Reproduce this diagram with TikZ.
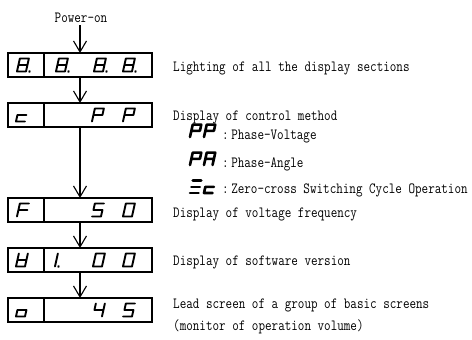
\documentclass[tikz,border=0pt]{standalone}
\usepackage{fontspec}
\usetikzlibrary{arrows.meta}
\newcommand\stxt[1]{\scalebox{1}[1.22]{#1}}
\newcommand\sevdigit[4][]{%
  \begin{scope}[shift={(#2,#3)},#1,xslant=0.22,yscale=-1]
    \coordinate (A) at (0,13);
    \coordinate (B) at (9,13);
    \coordinate (C) at (0,6.5);
    \coordinate (D) at (9,6.5);
    \coordinate (E) at (0,0);
    \coordinate (F) at (9,0);
    \draw[segline] #4;
  \end{scope}}
\begin{document}
\begin{tikzpicture}[x=1pt,y=-1pt,
  box/.style={draw, line width=1.1pt, minimum height=24pt, inner sep=0pt, outer sep=0pt},
  arr/.style={line width=1.1pt, -{Straight Barb[length=11pt,width=13pt,line width=1.1pt]}},
  txt/.style={anchor=base west, inner sep=0pt, font=\ttfamily\fontsize{12.75}{14}\selectfont},
  segline/.style={line width=1.9pt, line join=round, line cap=round},
  bigseg/.style={segline/.append style={line width=2.6pt}}]
\useasboundingbox (0,0) rectangle (472,340);

% Power-on
\node[txt, anchor=base] (pw) at (81,22) {\stxt{Power-on}};
\coordinate (pwb) at (80,25);

% boxes
\node[box, minimum width=36pt] (l1) at (26,65) {};
\node[box, minimum width=108pt] (r1) at (98,65) {};
\node[box, minimum width=36pt] (l2) at (26,115) {};
\node[box, minimum width=108pt] (r2) at (98,115) {};
\node[box, minimum width=36pt] (l3) at (26,210) {};
\node[box, minimum width=108pt] (r3) at (98,210) {};
\node[box, minimum width=36pt] (l4) at (26,260) {};
\node[box, minimum width=108pt] (r4) at (98,260) {};
\node[box, minimum width=36pt] (l5) at (26,310) {};
\node[box, minimum width=108pt] (r5) at (98,310) {};

% arrows
\draw[arr] (pwb) -- (r1.north -| pwb);
\draw[arr] (r1.south -| pwb) -- (r2.north -| pwb);
\draw[arr] (r2.south -| pwb) -- (r3.north -| pwb);
\draw[arr] (r3.south -| pwb) -- (r4.north -| pwb);
\draw[arr] (r4.south -| pwb) -- (r5.north -| pwb);

% row 1: 8. | 8. 8. 8.
\sevdigit{17}{71.5}{(A)--(B)--(F)--(E)--cycle (C)--(D) (F) ++(3.5,0) circle[radius=0.3]}
\sevdigit{56}{71.5}{(A)--(B)--(F)--(E)--cycle (C)--(D) (F) ++(3.5,0) circle[radius=0.3]}
\sevdigit{94}{71.5}{(A)--(B)--(F)--(E)--cycle (C)--(D) (F) ++(3.5,0) circle[radius=0.3]}
\sevdigit{123}{71.5}{(A)--(B)--(F)--(E)--cycle (C)--(D) (F) ++(3.5,0) circle[radius=0.3]}

% row 2: c | P P
\sevdigit{16}{121.5}{(D)--(C)--(E)--(F)}
\sevdigit{92}{121.5}{(E)--(A)--(B)--(D)--(C)}
\sevdigit{123}{121.5}{(E)--(A)--(B)--(D)--(C)}

% row 3: F | 5 0
\sevdigit{17}{216.5}{(B)--(A)--(E) (C)--(D)}
\sevdigit{92}{216.5}{(B)--(A)--(C)--(D)--(F)--(E)}
\sevdigit{123}{216.5}{(A)--(B)--(F)--(E)--cycle}

% row 4: version | 1. 0 0
\sevdigit{16}{266.5}{(A)--(E)--(F)--(B) (C)--(D)}
\sevdigit{46}{266.5}{(B)--(F) (F) ++(3.5,0) circle[radius=0.3]}
\sevdigit{93}{266.5}{(A)--(B)--(F)--(E)--cycle}
\sevdigit{123}{266.5}{(A)--(B)--(F)--(E)--cycle}

% row 5: o | 4 5
\sevdigit{16}{316.5}{(C)--(D)--(F)--(E)--cycle}
\sevdigit{93}{316.5}{(A)--(C)--(D) (B)--(F)}
\sevdigit{123}{316.5}{(B)--(A)--(C)--(D)--(F)--(E)}

% descriptions
\node[txt] (t1) at (173,71) {\stxt{Lighting of all the display sections}};
\node[txt] (t2) at (173,120) {\stxt{Display of control method}};
\node[txt] (t3) at (173,217) {\stxt{Display of voltage frequency}};
\node[txt] (t4) at (173,265) {\stxt{Display of software version}};
\node[txt] (t5) at (173,308) {\stxt{Lead screen of a group of basic screens}};
\node[txt] (t6) at (173,330) {\stxt{(monitor of operation volume)}};

% legend
\sevdigit[bigseg, scale=0.95]{190}{137}{(E)--(A)--(B)--(D)--(C)}
\sevdigit[bigseg, scale=0.95]{204}{137}{(E)--(A)--(B)--(D)--(C)}
\node[txt] (k1) at (222,139) {\stxt{:\hspace{2.5pt}Phase-Voltage}};

\sevdigit[bigseg, scale=0.95]{190}{165}{(E)--(A)--(B)--(D)--(C)}
\sevdigit[bigseg, scale=0.95]{204}{165}{(E)--(A)--(B)--(F) (C)--(D)}
\node[txt] (k2) at (222,167) {\stxt{:\hspace{2.5pt}Phase-Angle}};

\sevdigit[bigseg, scale=0.95]{190}{193}{(A)--(B) (C)--(D) (E)--(F)}
\sevdigit[bigseg, scale=0.95]{204}{193}{(D)--(C)--(E)--(F)}
\node[txt] (k3) at (222,193) {\stxt{:\hspace{2.5pt}Zero-cross Switching Cycle Operation}};
\end{tikzpicture}
\end{document}
